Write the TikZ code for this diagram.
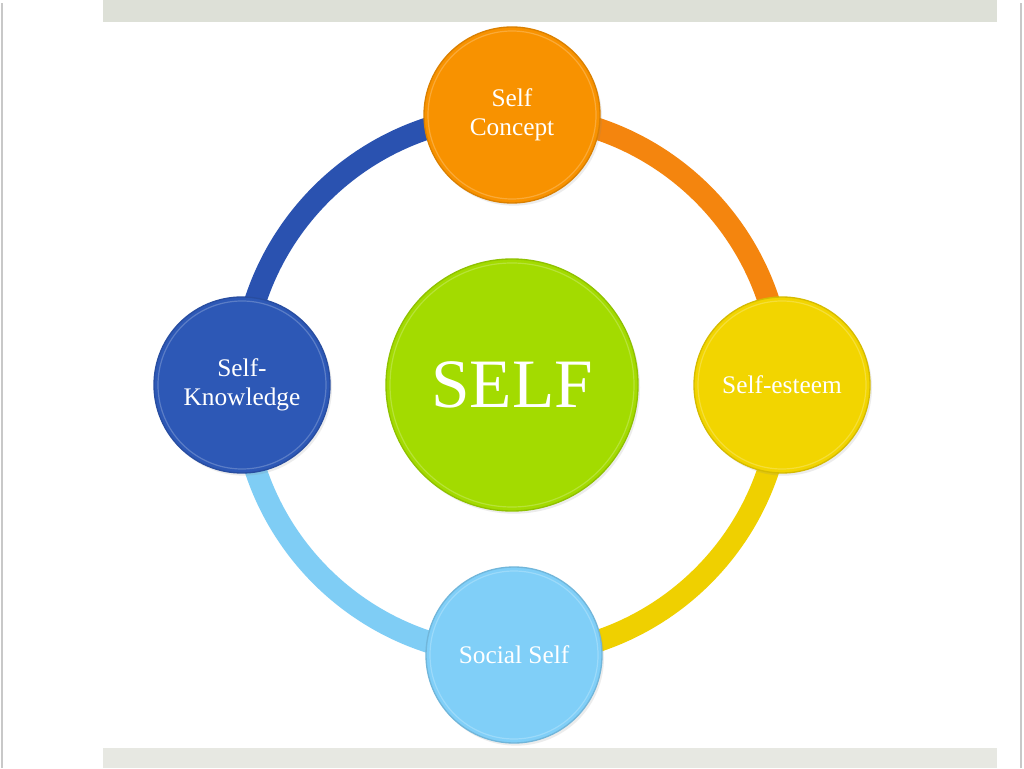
\documentclass[tikz,border=0pt]{standalone}
\usepackage{fontspec}
\setmainfont{Liberation Serif}
\usetikzlibrary{shadows}
\definecolor{cOrange}{HTML}{F89200}
\definecolor{cBlue}{HTML}{2D58B6}
\definecolor{cYellow}{HTML}{F2D500}
\definecolor{cLight}{HTML}{80CFF8}
\definecolor{cGreen}{HTML}{A3DB00}
\definecolor{rOrange}{HTML}{F4850E}
\definecolor{rBlue}{HTML}{2A52B0}
\definecolor{rYellow}{HTML}{EFD000}
\definecolor{rLight}{HTML}{7FCDF5}
\definecolor{barTop}{HTML}{DDE0D7}
\definecolor{barBot}{HTML}{E7E8E2}
\definecolor{edge}{HTML}{C8C8C8}
\tikzset{
  ringseg/.style={line width=16.5pt, line cap=butt},
  ball/.style={circle, inner sep=0pt, minimum size=132pt, text=white, align=center,
    font=\fontsize{19}{22}\selectfont, fill=#1, draw=#1!88!black, line width=1pt,
    drop shadow={shadow xshift=1.5pt, shadow yshift=-2pt, opacity=0.15}},
  rim/.style={draw=#1!78!white, line width=0.9pt},
}
\begin{document}
\begin{tikzpicture}[x=0.75pt,y=0.75pt]
\useasboundingbox (0,0) rectangle (1024,768);
\fill[white] (0,0) rectangle (1024,768);
% frame bars
\fill[barTop] (103,746) rectangle (997,768);
\fill[barBot] (103,0) rectangle (997,20);
\draw[edge, line width=1.1pt] (2,0) -- (2,765);
\draw[edge, line width=1.1pt] (1021,0) -- (1021,765);
% anchor coordinates
\coordinate (c) at (512,383);
\coordinate (pT) at (512,653);
\coordinate (pL) at (242,383);
\coordinate (pR) at (782,383);
\coordinate (pB) at (512,113);
% ring
\draw[ringseg, rBlue] (pT) arc[start angle=90, end angle=180, radius=202.5pt];
\draw[ringseg, rOrange] (pT) arc[start angle=90, end angle=0, radius=202.5pt];
\draw[ringseg, rYellow] (pR) arc[start angle=0, end angle=-90, radius=202.5pt];
\draw[ringseg, rLight] (pB) arc[start angle=270, end angle=180, radius=202.5pt];
% circles
\node[ball=cOrange] (top) at (pT) {Self\\Concept};
\node[ball=cBlue] (left) at (pL) {Self-\\Knowledge};
\node[ball=cYellow] (right) at (pR) {Self-esteem};
\node[ball=cLight] (bottom) at (514,113) {Social Self};
\node[ball=cGreen, minimum size=189pt, font=\fontsize{52}{60}\selectfont] (self) at (c) {SELF};
% bevel rims
\draw[rim=cOrange] (top.center) circle[radius=63pt];
\draw[rim=cBlue] (left.center) circle[radius=63pt];
\draw[rim=cYellow] (right.center) circle[radius=63pt];
\draw[rim=cLight] (bottom.center) circle[radius=63pt];
\draw[rim=cGreen] (self.center) circle[radius=91.5pt];
\end{tikzpicture}
\end{document}
